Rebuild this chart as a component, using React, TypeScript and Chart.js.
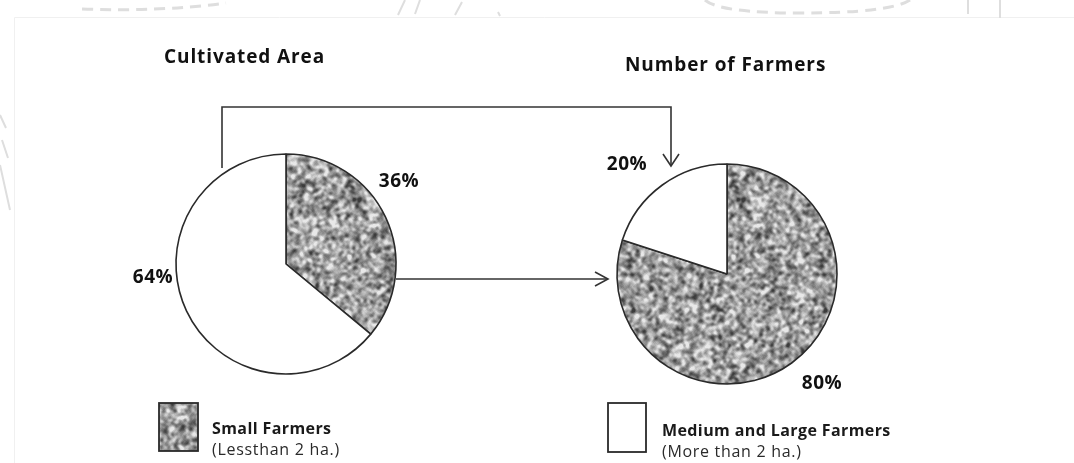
import React, { useEffect, useRef } from "react";
import { Chart, registerables } from "chart.js";

Chart.register(...registerables);

// ---------------- data ----------------
const categories = ["Small Farmers", "Medium and Large Farmers"];
const categoryNotes = ["(Lessthan 2 ha.)", "(More than 2 ha.)"];
const pieTitles = ["Cultivated Area", "Number of Farmers"];
const cultivatedAreaShare = [36, 64];
const farmerShare = [80, 20];

// ---------------- style ----------------
const W = 1074;
const H = 463;
const INK = "#2a2a2a";
const FONT = '"Open Sans", "DejaVu Sans", sans-serif';

function makeGranite(): HTMLCanvasElement {
  const size = 192;
  const c = document.createElement("canvas");
  c.width = size;
  c.height = size;
  const ctx = c.getContext("2d")!;
  let seed = 987654321;
  const next = () => {
    seed = (Math.imul(seed, 1664525) + 1013904223) >>> 0;
    return seed / 4294967296;
  };
  let buf = new Float32Array(size * size);
  for (let i = 0; i < buf.length; i++) buf[i] = next();
  const blur = (src: Float32Array) => {
    const dst = new Float32Array(size * size);
    for (let y = 0; y < size; y++) {
      for (let x = 0; x < size; x++) {
        let s = 0;
        for (let j = -1; j <= 1; j++) {
          for (let i = -1; i <= 1; i++) {
            const xx = (x + i + size) % size;
            const yy = (y + j + size) % size;
            s += src[yy * size + xx];
          }
        }
        dst[y * size + x] = s / 9;
      }
    }
    return dst;
  };
  const fine = buf;
  buf = blur(blur(blur(buf)));
  let mean = 0;
  for (let i = 0; i < buf.length; i++) mean += buf[i];
  mean /= buf.length;
  let v = 0;
  for (let i = 0; i < buf.length; i++) v += (buf[i] - mean) ** 2;
  const sd = Math.sqrt(v / buf.length);
  const img = ctx.createImageData(size, size);
  for (let i = 0; i < buf.length; i++) {
    let g = 158 + ((buf[i] - mean) / sd) * 36 + (fine[i] - 0.5) * 12;
    g = Math.max(60, Math.min(232, g));
    img.data[i * 4] = g;
    img.data[i * 4 + 1] = g;
    img.data[i * 4 + 2] = g;
    img.data[i * 4 + 3] = 255;
  }
  ctx.putImageData(img, 0, 0);
  return c;
}

function arrow(ctx: CanvasRenderingContext2D, pts: [number, number][], len: number, half: number) {
  ctx.beginPath();
  ctx.moveTo(pts[0][0], pts[0][1]);
  for (let i = 1; i < pts.length; i++) ctx.lineTo(pts[i][0], pts[i][1]);
  ctx.stroke();
  const [x2, y2] = pts[pts.length - 1];
  const [x1, y1] = pts[pts.length - 2];
  const ang = Math.atan2(y2 - y1, x2 - x1);
  const ux = Math.cos(ang), uy = Math.sin(ang);
  ctx.beginPath();
  ctx.moveTo(x2 - ux * len - uy * half, y2 - uy * len + ux * half);
  ctx.lineTo(x2, y2);
  ctx.lineTo(x2 - ux * len + uy * half, y2 - uy * len - ux * half);
  ctx.stroke();
}

function spacedText(ctx: CanvasRenderingContext2D, text: string, x: number, y: number, spacing: number) {
  (ctx as any).letterSpacing = `${spacing}px`;
  ctx.fillText(text, x, y);
  (ctx as any).letterSpacing = "0px";
}

type Spot = { dx: number; dy: number };

function percentLabels(spots: Spot[]) {
  return {
    id: "percentLabels",
    afterDatasetsDraw(chart: any) {
      const meta = chart.getDatasetMeta(0);
      const values = chart.data.datasets[0].data as number[];
      const ctx: CanvasRenderingContext2D = chart.ctx;
      ctx.save();
      ctx.font = `bold 19px ${FONT}`;
      ctx.fillStyle = "#111";
      ctx.textAlign = "left";
      ctx.textBaseline = "middle";
      meta.data.forEach((arc: any, i: number) => {
        const s = spots[i];
        const t = `${values[i]}%`;
        (ctx as any).letterSpacing = "0.6px";
        const w = ctx.measureText(t).width;
        ctx.fillText(t, arc.x + s.dx - w / 2, arc.y + s.dy);
        (ctx as any).letterSpacing = "0px";
      });
      ctx.restore();
    },
  };
}

const watermark = {
  id: "watermark",
  beforeDraw(chart: any) {
    const ctx: CanvasRenderingContext2D = chart.ctx;
    ctx.save();
    ctx.fillStyle = "#fff";
    ctx.fillRect(0, 0, W, H);
    // faint frame
    ctx.strokeStyle = "#f0f0f0";
    ctx.lineWidth = 1;
    ctx.beginPath();
    ctx.moveTo(14.5, H);
    ctx.lineTo(14.5, 17.5);
    ctx.lineTo(W, 17.5);
    ctx.stroke();
    // faint stamp strokes
    ctx.strokeStyle = "#dedede";
    ctx.lineWidth = 3;
    ctx.setLineDash([11, 7]);
    ctx.beginPath();
    ctx.moveTo(82, 9);
    ctx.quadraticCurveTo(160, 12, 226, 3);
    ctx.stroke();
    ctx.beginPath();
    ctx.moveTo(705, 0);
    ctx.quadraticCurveTo(720, 13, 800, 13);
    ctx.quadraticCurveTo(890, 13, 910, 0);
    ctx.stroke();
    ctx.setLineDash([]);
    ctx.lineWidth = 2;
    ctx.beginPath();
    ctx.moveTo(398, 15); ctx.lineTo(405, 0);
    ctx.moveTo(420, 0); ctx.lineTo(415, 14);
    ctx.moveTo(455, 15); ctx.lineTo(462, 2);
    ctx.moveTo(498, 12); ctx.lineTo(500, 16);
    ctx.moveTo(968, 0); ctx.lineTo(968, 14);
    ctx.moveTo(1000, 0); ctx.lineTo(1000, 18);
    ctx.moveTo(0, 115); ctx.lineTo(6, 128);
    ctx.moveTo(2, 140); ctx.lineTo(8, 158);
    ctx.moveTo(0, 165); ctx.lineTo(10, 210);
    ctx.stroke();
    ctx.restore();
  },
};

export default function App() {
  const refA = useRef<HTMLCanvasElement>(null);
  const refB = useRef<HTMLCanvasElement>(null);

  useEffect(() => {
    const ca = refA.current!;
    const cb = refB.current!;
    const granite = makeGranite();
    const patA = ca.getContext("2d")!.createPattern(granite, "repeat")!;
    const patB = cb.getContext("2d")!.createPattern(granite, "repeat")!;

    const base = (padding: any) => ({
      responsive: false,
      maintainAspectRatio: false,
      animation: false as const,
      events: [] as any[],
      layout: { padding },
      plugins: {
        legend: { display: false },
        tooltip: { enabled: false },
        title: { display: false },
      },
    });

    const chartA = new Chart(ca, {
      type: "pie",
      data: {
        labels: categories,
        datasets: [
          {
            data: cultivatedAreaShare,
            backgroundColor: [patA as any, "#ffffff"],
            borderColor: INK,
            borderWidth: 1.6,
            radius: 110,
          } as any,
        ],
      },
      options: base({ left: 0, right: 502, top: 65, bottom: 0 }) as any,
      plugins: [
        watermark,
        percentLabels([
          { dx: 113, dy: -82 },
          { dx: -133, dy: 14 },
        ]),
      ],
    });

    const decor = {
      id: "decor",
      afterDraw(chart: any) {
        const ctx: CanvasRenderingContext2D = chart.ctx;
        const a: any = chartA.getDatasetMeta(0).data[0];
        const b: any = chart.getDatasetMeta(0).data[0];
        if (!a || !b) return;
        ctx.save();
        // titles
        ctx.fillStyle = "#111";
        ctx.textBaseline = "alphabetic";
        ctx.textAlign = "left";
        ctx.font = `bold 19px ${FONT}`;
        spacedText(ctx, pieTitles[0], 164, 63, 0.9);
        spacedText(ctx, pieTitles[1], 625, 71, 0.9);

        // connectors
        ctx.strokeStyle = "#333";
        ctx.lineWidth = 1.6;
        ctx.lineJoin = "miter";
        const sx = a.x - 64;
        const topY = 107;
        const ex = b.x - 56;
        arrow(
          ctx,
          [
            [sx, a.y - 96],
            [sx, topY],
            [ex, topY],
            [ex, b.y - b.outerRadius + 2],
          ],
          12,
          8
        );
        const hy = a.y + 15;
        arrow(
          ctx,
          [
            [a.x + a.outerRadius, hy],
            [b.x - b.outerRadius - 9, hy],
          ],
          13,
          7
        );

        // legend
        const boxes = [
          { x: 159, y: 403, w: 39, h: 48, tx: 212, ty: 434, fill: patB as any },
          { x: 608, y: 403, w: 38, h: 49, tx: 662, ty: 436, fill: "#ffffff" },
        ];
        boxes.forEach((bx, i) => {
          ctx.fillStyle = bx.fill;
          ctx.fillRect(bx.x, bx.y, bx.w, bx.h);
          ctx.strokeStyle = INK;
          ctx.lineWidth = 1.8;
          ctx.strokeRect(bx.x, bx.y, bx.w, bx.h);
          ctx.fillStyle = "#1a1a1a";
          ctx.font = `bold 16px ${FONT}`;
          spacedText(ctx, categories[i], bx.tx, bx.ty, 0.4);
          ctx.fillStyle = "#2a2a2a";
          ctx.font = `500 16px ${FONT}`;
          spacedText(ctx, categoryNotes[i], bx.tx, bx.ty + 21, 0.7);
        });
        ctx.restore();
      },
    };

    const chartB = new Chart(cb, {
      type: "pie",
      data: {
        labels: categories,
        datasets: [
          {
            data: farmerShare,
            backgroundColor: [patB as any, "#ffffff"],
            borderColor: INK,
            borderWidth: 1.6,
            radius: 110,
          } as any,
        ],
      },
      options: base({ left: 380, right: 0, top: 85, bottom: 0 }) as any,
      plugins: [
        percentLabels([
          { dx: 95, dy: 110 },
          { dx: -100, dy: -109 },
        ]),
        decor,
      ],
    });

    return () => {
      chartB.destroy();
      chartA.destroy();
    };
  }, []);

  const cs: React.CSSProperties = { position: "absolute", left: 0, top: 0, width: W, height: H };
  return (
    <div style={{ position: "fixed", left: 0, top: 0, width: W, height: H, background: "#fff", overflow: "hidden" }}>
      <canvas ref={refA} width={W} height={H} style={cs} />
      <canvas ref={refB} width={W} height={H} style={cs} />
    </div>
  );
}
